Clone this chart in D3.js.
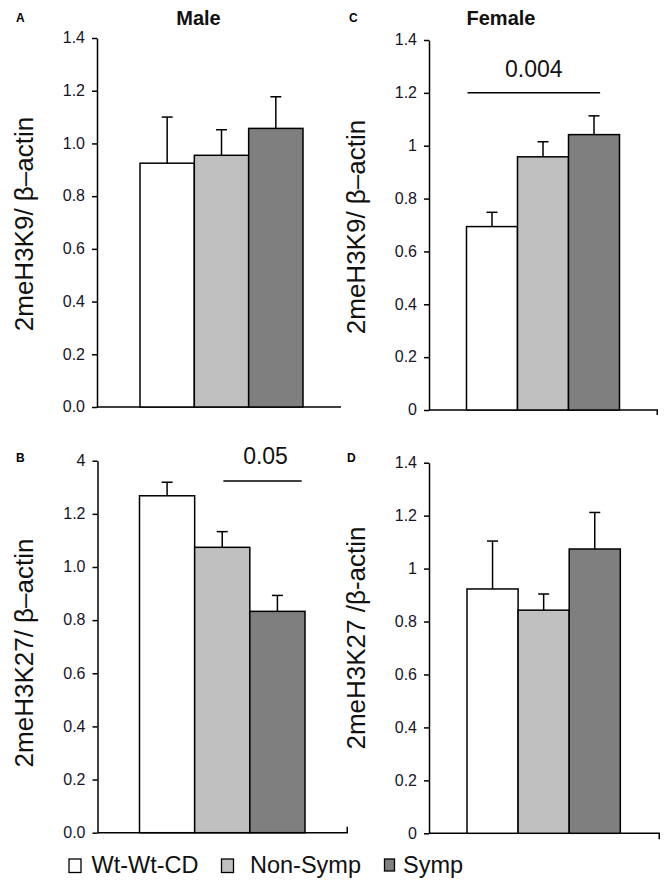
<!DOCTYPE html>
<html>
<head>
<meta charset="utf-8">
<script src="https://cdn.jsdelivr.net/npm/d3@7"></script>
<style>
  html, body { margin: 0; padding: 0; background: #fff; }
  text { font-family: "Liberation Sans", Arial, sans-serif; }
</style>
</head>
<body>
<svg id="chart" width="666" height="882"></svg>
<script>
// ---------- data ----------
const groups = ["Wt-Wt-CD", "Non-Symp", "Symp"];
const groupColors = ["#ffffff", "#c0c0c0", "#7f7f7f"];

const maleK9Mean   = [0.925, 0.955, 1.057];
const maleK9Err    = [0.175, 0.097, 0.120];
const maleK27Mean  = [1.268, 1.074, 0.833];
const maleK27Err   = [0.051, 0.059, 0.060];
const femaleK9Mean = [0.694, 0.958, 1.042];
const femaleK9Err  = [0.054, 0.057, 0.071];
const femaleK27Mean= [0.923, 0.843, 1.074];
const femaleK27Err = [0.181, 0.061, 0.138];

const tickValues = [0, 0.2, 0.4, 0.6, 0.8, 1.0, 1.2, 1.4];
const tickLabelsA = ["0.0", "0.2", "0.4", "0.6", "0.8", "1.0", "1.2", "1.4"];
const tickLabelsB = ["0.0", "0.2", "0.4", "0.6", "0.8", "1.0", "1.2", "4"];
const tickLabelsCD = ["0", "0.2", "0.4", "0.6", "0.8", "1", "1.2", "1.4"];

const sigB = { label: "0.05", lineY: 1.324, textY: 1.388 };
const sigC = { label: "0.004", lineY: 1.20, textY: 1.259 };

// ---------- drawing ----------
const svg = d3.select("#chart");
const FONT = '"Liberation Sans", Arial, sans-serif';

function panel(opt) {
  const g = svg.append("g");
  const y = d3.scaleLinear().domain([0, 1.4]).range([opt.y0, opt.y1]);
  const x = d3.scaleBand().domain(groups).range([opt.bx0, opt.bx1]).padding(0);
  const bw = x.bandwidth();

  // y axis
  const ax = g.append("g")
    .attr("transform", `translate(${opt.ax},0)`)
    .call(d3.axisLeft(y).tickValues(tickValues)
      .tickFormat((d, i) => opt.labels[i]).tickSize(5).tickSizeOuter(0).tickPadding(7));
  ax.select(".domain").attr("stroke", "#000").attr("stroke-width", 1.5);
  ax.selectAll(".tick line").attr("stroke", "#000").attr("stroke-width", 1.5);
  ax.selectAll(".tick text").attr("font-family", FONT).attr("font-size", 16)
    .attr("fill", "#15152a").attr("transform", "scale(1,1.08)")
    .attr("dy", "0.28em");

  // x axis line
  g.append("line")
    .attr("x1", opt.ax).attr("x2", opt.xEnd)
    .attr("y1", y(0)).attr("y2", y(0))
    .attr("stroke", "#000").attr("stroke-width", 1.5);
  if (opt.endTick) {
    g.append("line")
      .attr("x1", opt.xEnd - 0.75).attr("x2", opt.xEnd - 0.75)
      .attr("y1", y(0)).attr("y2", y(0) + opt.endTick)
      .attr("stroke", "#000").attr("stroke-width", 1.5);
  }

  // error bars (upper only)
  groups.forEach((gr, i) => {
    const cx = x(gr) + bw / 2;
    const top = y(opt.mean[i] + opt.err[i]);
    g.append("line").attr("x1", cx).attr("x2", cx)
      .attr("y1", y(opt.mean[i])).attr("y2", top)
      .attr("stroke", "#000").attr("stroke-width", 1.5);
    g.append("line").attr("x1", cx - 5.5).attr("x2", cx + 5.5)
      .attr("y1", top).attr("y2", top)
      .attr("stroke", "#000").attr("stroke-width", 1.5);
  });

  // bars
  g.selectAll("rect.bar").data(groups).join("rect")
    .attr("class", "bar")
    .attr("x", d => x(d))
    .attr("width", bw)
    .attr("y", (d, i) => y(opt.mean[i]))
    .attr("height", (d, i) => y(0) - y(opt.mean[i]))
    .attr("fill", (d, i) => groupColors[i])
    .attr("stroke", "#000").attr("stroke-width", 1.5);

  // y label
  g.append("text")
    .attr("transform", `translate(${opt.labelX},${opt.labelCY}) rotate(-90)`)
    .attr("text-anchor", "middle")
    .attr("font-size", 26).attr("fill", "#111")
    .text(opt.ylabel);

  // panel letter
  g.append("text")
    .attr("x", opt.letterX).attr("y", opt.letterY)
    .attr("font-size", 12).attr("font-weight", "bold").attr("fill", "#000")
    .text(opt.letter);

  if (opt.title) {
    g.append("text")
      .attr("x", opt.titleX).attr("y", 24.5)
      .attr("text-anchor", "middle")
      .attr("font-size", 20).attr("font-weight", "bold").attr("fill", "#111")
      .text(opt.title);
  }

  if (opt.sig) {
    const s = opt.sig;
    const lx1 = x(groups[s.from]) + s.fromFrac * bw;
    const lx2 = x(groups[s.to]) + s.toFrac * bw;
    g.append("line").attr("x1", lx1).attr("x2", lx2)
      .attr("y1", y(s.data.lineY)).attr("y2", y(s.data.lineY))
      .attr("stroke", "#000").attr("stroke-width", 1.5);
    g.append("text")
      .attr("x", (lx1 + lx2) / 2 + s.textDx).attr("y", y(s.data.textY))
      .attr("text-anchor", "middle")
      .attr("font-size", 23).attr("fill", "#111")
      .text(s.data.label);
  }
}

panel({ ax: 97, y0: 407, y1: 38, bx0: 140, bx1: 303, xEnd: 341,
  labels: tickLabelsA, mean: maleK9Mean, err: maleK9Err,
  ylabel: "2meH3K9/ β–actin", labelX: 33, labelCY: 224,
  letter: "A", letterX: 16, letterY: 21.5, title: "Male", titleX: 198.5 });

panel({ ax: 97.5, y0: 832.7, y1: 460.7, bx0: 139.5, bx1: 305, xEnd: 348, endTick: -6,
  labels: tickLabelsB, mean: maleK27Mean, err: maleK27Err,
  ylabel: "2meH3K27/ β–actin", labelX: 33, labelCY: 653,
  letter: "B", letterX: 16, letterY: 461.5,
  sig: { data: sigB, from: 1, fromFrac: 0.52, to: 2, toFrac: 0.94, textDx: 3 } });

panel({ ax: 429, y0: 410, y1: 40, bx0: 466.5, bx1: 619.5, xEnd: 658, endTick: 5,
  labels: tickLabelsCD, mean: femaleK9Mean, err: femaleK9Err,
  ylabel: "2meH3K9/ β–actin", labelX: 365, labelCY: 227,
  letter: "C", letterX: 349, letterY: 21.5, title: "Female", titleX: 501,
  sig: { data: sigC, from: 0, fromFrac: 0.02, to: 2, toFrac: 0.62, textDx: 0 } });

panel({ ax: 429, y0: 833.3, y1: 462.7, bx0: 467, bx1: 620.3, xEnd: 660, endTick: 6,
  labels: tickLabelsCD, mean: femaleK27Mean, err: femaleK27Err,
  ylabel: "2meH3K27 /β-actin", labelX: 365, labelCY: 638,
  letter: "D", letterX: 347, letterY: 461.5 });

// ---------- legend ----------
const legendX = [69, 221.5, 384.5];
const legend = svg.append("g");
groups.forEach((gr, i) => {
  legend.append("rect")
    .attr("x", legendX[i]).attr("y", 859)
    .attr("width", i === 2 ? 10 : 12).attr("height", i === 2 ? 12 : 13.5)
    .attr("fill", groupColors[i]).attr("stroke", "#000").attr("stroke-width", 1.3);
  legend.append("text")
    .attr("x", legendX[i] + (i === 1 ? 28.5 : (i === 2 ? 18.5 : 22.5))).attr("y", 872.5)
    .attr("font-size", 23.5).attr("fill", "#111")
    .text(gr);
});
</script>
</body>
</html>
